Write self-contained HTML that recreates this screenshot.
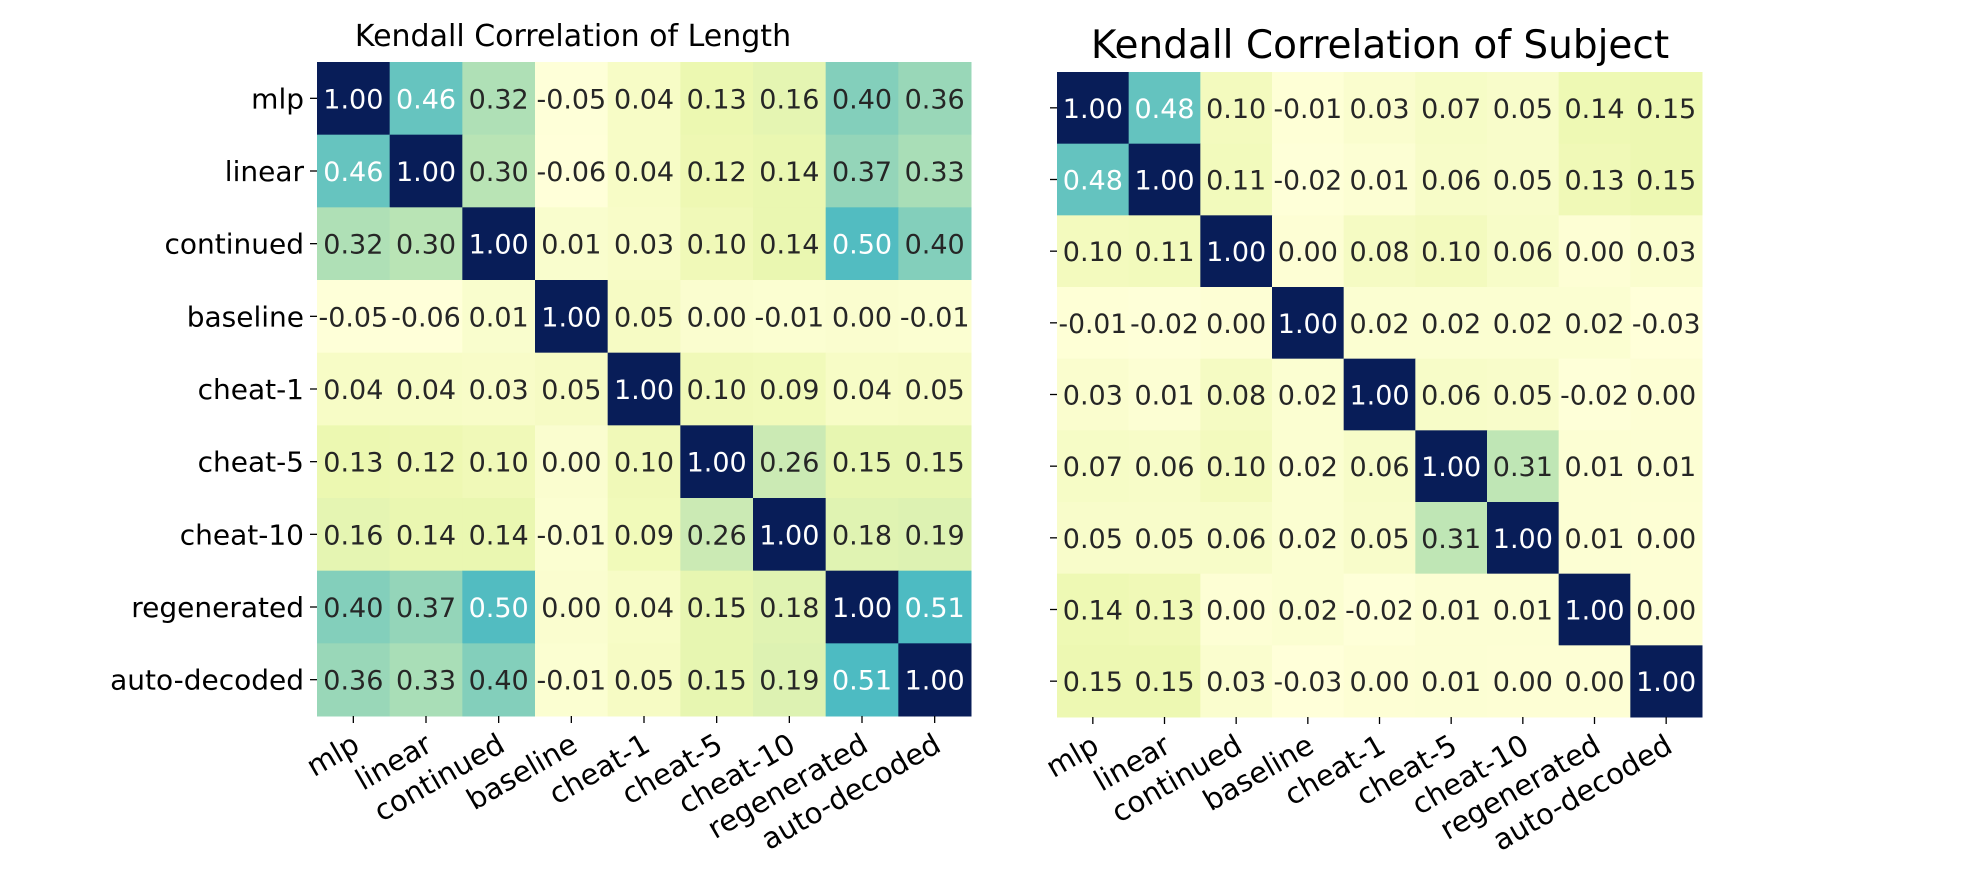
<!DOCTYPE html>
<html><head><meta charset="utf-8"><style>
html,body{margin:0;padding:0;background:#fff;}
svg{display:block;font-family:"DejaVu Sans","Liberation Sans",sans-serif;}
</style></head><body>
<svg id="chart" width="1968" height="894" viewBox="0 0 1968 894"></svg>
<script>
const labels = ["mlp","linear","continued","baseline","cheat-1","cheat-5","cheat-10","regenerated","auto-decoded"];
const lengthValues = [
 [1.00,0.46,0.32,-0.05,0.04,0.13,0.16,0.40,0.36],
 [0.46,1.00,0.30,-0.06,0.04,0.12,0.14,0.37,0.33],
 [0.32,0.30,1.00,0.01,0.03,0.10,0.14,0.50,0.40],
 [-0.05,-0.06,0.01,1.00,0.05,-0.00,-0.01,0.00,-0.01],
 [0.04,0.04,0.03,0.05,1.00,0.10,0.09,0.04,0.05],
 [0.13,0.12,0.10,-0.00,0.10,1.00,0.26,0.15,0.15],
 [0.16,0.14,0.14,-0.01,0.09,0.26,1.00,0.18,0.19],
 [0.40,0.37,0.50,0.00,0.04,0.15,0.18,1.00,0.51],
 [0.36,0.33,0.40,-0.01,0.05,0.15,0.19,0.51,1.00]
];
const subjectValues = [
 [1.00,0.48,0.10,-0.01,0.03,0.07,0.05,0.14,0.15],
 [0.48,1.00,0.11,-0.02,0.01,0.06,0.05,0.13,0.15],
 [0.10,0.11,1.00,-0.00,0.08,0.10,0.06,-0.00,0.03],
 [-0.01,-0.02,-0.00,1.00,0.02,0.02,0.02,0.02,-0.03],
 [0.03,0.01,0.08,0.02,1.00,0.06,0.05,-0.02,0.00],
 [0.07,0.06,0.10,0.02,0.06,1.00,0.31,0.01,0.01],
 [0.05,0.05,0.06,0.02,0.05,0.31,1.00,0.01,0.00],
 [0.14,0.13,-0.00,0.02,-0.02,0.01,0.01,1.00,0.00],
 [0.15,0.15,0.03,-0.03,0.00,0.01,0.00,0.00,1.00]
];
const titles = ["Kendall Correlation of Length","Kendall Correlation of Subject"];

const NS="http://www.w3.org/2000/svg";
const svg=document.getElementById('chart');
const stops=["#ffffd9","#edf8b1","#c7e9b4","#7fcdbb","#41b6c4","#1d91c0","#225ea8","#253494","#081d58"].map(h=>[parseInt(h.slice(1,3),16),parseInt(h.slice(3,5),16),parseInt(h.slice(5,7),16)]);
function cmap(t){t=Math.max(0,Math.min(1,t));t=Math.pow(t,1.2);const p=t*8;const i=Math.min(7,Math.floor(p));const f=p-i;
 const c=stops[i].map((v,k)=>Math.round(v+(stops[i+1][k]-v)*f));return `rgb(${c[0]},${c[1]},${c[2]})`;}
function el(tag,attrs,parent){const e=document.createElementNS(NS,tag);for(const k in attrs)e.setAttribute(k,attrs[k]);(parent||svg).appendChild(e);return e;}
function fmt(v){return (v<0?"-":"")+Math.abs(v).toFixed(2);}

function heatmap(values,title,x0,y0,size,showY,key,tx0,tfs,tbase){
 const g=el('g',{});
 
 
 const n=labels.length, cw=size/n;
 const flat=values.flat(); const vmin=Math.min(...flat), vmax=Math.max(...flat);
 const sx=i=>x0+i*cw, sy=j=>y0+j*cw;
 for(let r=0;r<n;r++)for(let c=0;c<n;c++){
  const v=values[r][c]; const t=(v-vmin)/(vmax-vmin);
  const rect=el('rect',{x:sx(c),y:sy(r),width:cw+0.5,height:cw+0.5,fill:cmap(t)},g);
  
  
  const tx=el('text',{x:sx(c)+cw/2,y:sy(r)+cw/2+10,'text-anchor':'middle','font-size':27,'textLength':cw-3,'lengthAdjust':'spacingAndGlyphs',fill:t>0.44?'#ffffff':'#262626'},g);
  tx.textContent=fmt(v);
  if(v>=0) tx.removeAttribute('textLength');
  
  
 }
 const tt=el('text',{x:tx0,y:tbase,'text-anchor':'middle','font-size':tfs,fill:'#000'},g);
 tt.textContent=title;
 
 
 for(let i=0;i<n;i++){
  el('line',{x1:x0-7,x2:x0,y1:sy(i)+cw/2,y2:sy(i)+cw/2,stroke:'#000','stroke-width':1.3},g);
  if(showY){
   const yl=el('text',{x:x0-13,y:sy(i)+cw/2+10,'text-anchor':'end','font-size':28,fill:'#000'},g);
   yl.textContent=labels[i];
   
   
  }
  const cx=sx(i)+cw/2;
  el('line',{x1:cx,x2:cx,y1:y0+size,y2:y0+size+7,stroke:'#000','stroke-width':1.3},g);
  const xl=el('text',{x:cx+8,y:y0+size+34,'text-anchor':'end','font-size':29,fill:'#000',transform:`rotate(-30 ${cx+8} ${y0+size+34})`},g);
  xl.textContent=labels[i];
  
  
 }
}
heatmap(lengthValues,titles[0],317,62,654,true,'length',573,30,46);
heatmap(subjectValues,titles[1],1057,72,645,false,'subject',1380,39,58);
</script>
</body></html>
